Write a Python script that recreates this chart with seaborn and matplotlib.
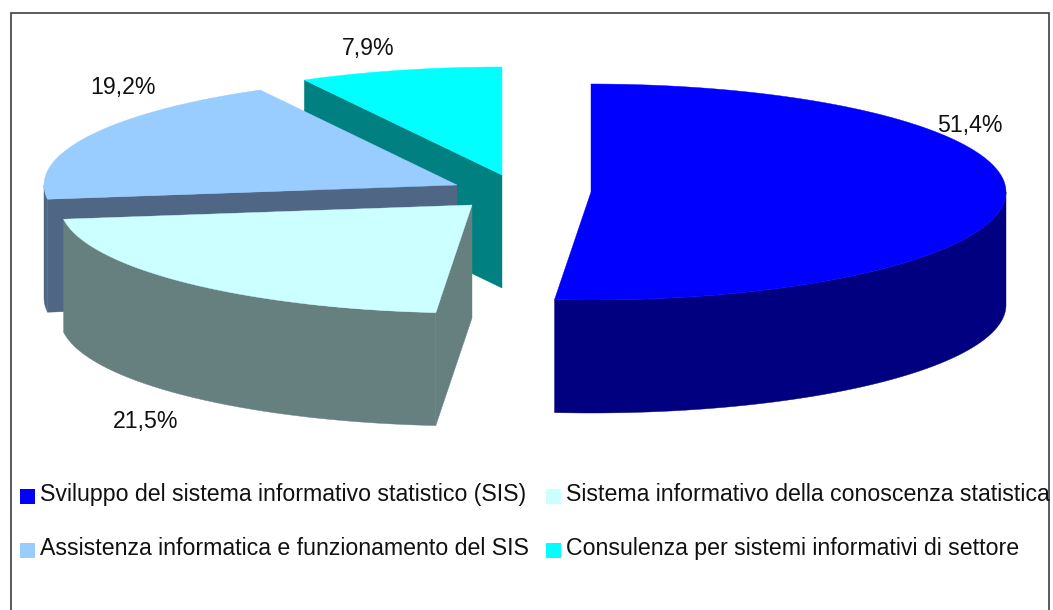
import numpy as np
import matplotlib
matplotlib.use("Agg")
import matplotlib.pyplot as plt
from matplotlib.patches import Polygon, Rectangle
import seaborn as sns

categories = ["Sviluppo del sistema informativo statistico (SIS)",
              "Sistema informativo della conoscenza statistica",
              "Assistenza informatica e funzionamento del SIS",
              "Consulenza per sistemi informativi di settore"]
values = [51.4, 21.5, 19.2, 7.9]
top_colors = ["#0000FF", "#CCFFFF", "#99CCFF", "#00FFFF"]
side_colors = ["#000080", "#668080", "#4F6685", "#008080"]
centers = [(591, 192), (472, 205), (457, 185), (502, 175)]
radii = [415, 412, 413, 415]
label_pos = [(970, 132), (146, 428), (123, 94), (368, 55)]
legend_pos = [(20, 489), (546, 489), (20, 543), (546, 543)]

RY, DEPTH = 108, 113

sns.set_theme(style="white")
plt.rcParams["font.family"] = ["Liberation Sans", "DejaVu Sans"]
fig = plt.figure(figsize=(10.53, 6.10), dpi=100, facecolor="white")
ax = fig.add_axes([0, 0, 1, 1])
ax.set_xlim(0, 1053)
ax.set_ylim(610, 0)
ax.axis("off")

ax.plot([10.5, 10.5, 1048.5, 1048.5], [610, 12.5, 12.5, 610],
        color="#404040", lw=1.2, solid_joinstyle="miter")


def rim(c, rx, a0, a1, dz=0, n=200):
    t = np.linspace(a0, a1, n)
    return np.column_stack([c[0] + rx * np.sin(t), c[1] - RY * np.cos(t) + dz])


def face(c, rx, a, col, z):
    p = rim(c, rx, a, a, n=1)[0]
    ax.add_patch(Polygon([c, p, (p[0], p[1] + DEPTH), (c[0], c[1] + DEPTH)],
                         closed=True, fc=col, ec=col, lw=0.3, zorder=z))


edges = np.concatenate([[0], np.cumsum(values)]) / sum(values) * 2 * np.pi
for i in range(len(values) - 1, -1, -1):
    a0, a1 = edges[i], edges[i + 1]
    c, rx = centers[i], radii[i]
    z = 10 - i
    if np.sin(a0) < -1e-9:
        face(c, rx, a0, side_colors[i], z)
    if np.sin(a1) > 1e-9:
        face(c, rx, a1, side_colors[i], z)
    w0, w1 = max(a0, np.pi / 2), min(a1, 3 * np.pi / 2)
    if w1 > w0:
        up = rim(c, rx, w0, w1)
        down = rim(c, rx, w0, w1, DEPTH)[::-1]
        ax.add_patch(Polygon(np.vstack([up, down]), closed=True,
                             fc=side_colors[i], ec=side_colors[i], lw=0.3, zorder=z))
    ax.add_patch(Polygon(np.vstack([[c], rim(c, rx, a0, a1)]), closed=True,
                         fc=top_colors[i], ec=top_colors[i], lw=0.3, zorder=z))

for v, (x, y) in zip(values, label_pos):
    ax.text(x, y, f"{v:.1f}%".replace(".", ","), ha="center", va="baseline",
            fontsize=16.7, color="#111111", zorder=20)

for name, col, (x, y) in zip(categories, top_colors, legend_pos):
    ax.add_patch(Rectangle((x, y), 15, 15, fc=col, ec="none", zorder=20))
    ax.text(x + 20, y + 12, name, ha="left", va="baseline", fontsize=16.7,
            color="#111111", zorder=20)

fig.savefig("out.png", dpi=100, facecolor="white")
